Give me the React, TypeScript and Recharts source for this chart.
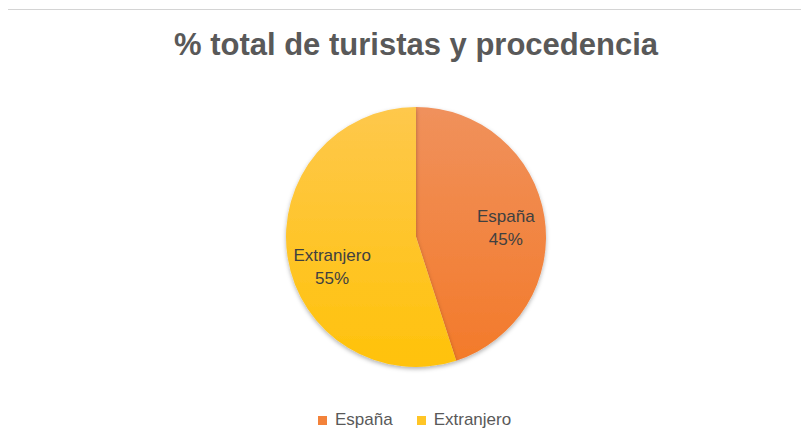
import { PieChart, Pie, Cell } from "recharts";

const categories = ["España", "Extranjero"];
const shares = [45, 55];
const colors = ["#F3823A", "#FFC526"];

// small nudges so each label sits where Excel put it
const labelNudge = [
  { dx: 0, dy: 3 },
  { dx: 6, dy: 14 },
];

const data = categories.map((name, i) => ({ name, value: shares[i] }));

const FONT = "'Liberation Sans', 'DejaVu Sans', sans-serif";

function renderLabel(props: any) {
  const { cx, cy, midAngle, outerRadius, name, percent, index } = props;
  const RAD = Math.PI / 180;
  const r = outerRadius * 0.7;
  const nudge = labelNudge[index] ?? { dx: 0, dy: 0 };
  const x = cx + r * Math.cos(-midAngle * RAD) + nudge.dx;
  const y = cy + r * Math.sin(-midAngle * RAD) + nudge.dy;
  return (
    <text x={x} y={y} textAnchor="middle" fill="#404040" fontSize={17} fontFamily={FONT}>
      <tspan x={x} dy={-4}>{name}</tspan>
      <tspan x={x} dy={23}>{`${Math.round(percent * 100)}%`}</tspan>
    </text>
  );
}

export default function App() {
  return (
    <div style={{ position: "relative", width: 809, height: 444, margin: -8, overflow: "hidden", background: "#fff" }}>
      <div
        style={{
          position: "absolute",
          left: 0,
          top: 27,
          width: 832,
          textAlign: "center",
          fontFamily: FONT,
          fontWeight: "bold",
          fontSize: 31,
          color: "#595959",
        }}
      >
        % total de turistas y procedencia
      </div>
      <div style={{ position: "absolute", left: 0, top: 0 }}>
        <PieChart width={832} height={444} margin={{ top: 0, right: 0, bottom: 0, left: 0 }}>
          <defs>
            <linearGradient id="gradEs" x1="0" y1="0" x2="0" y2="1">
              <stop offset="0%" stopColor="#F0915C" />
              <stop offset="100%" stopColor="#F37A2A" />
            </linearGradient>
            <linearGradient id="gradEx" x1="0" y1="0" x2="0" y2="1">
              <stop offset="0%" stopColor="#FEC84C" />
              <stop offset="100%" stopColor="#FFC20A" />
            </linearGradient>
            <filter id="pieShadow" x="-10%" y="-10%" width="120%" height="125%">
              <feDropShadow dx="0" dy="2" stdDeviation="2" floodColor="#000" floodOpacity="0.3" />
            </filter>
          </defs>
          <Pie
            data={data}
            dataKey="value"
            nameKey="name"
            cx={416}
            cy={237}
            outerRadius={130}
            startAngle={90}
            endAngle={-270}
            stroke="none"
            label={renderLabel}
            labelLine={false}
            isAnimationActive={false}
            style={{ filter: "url(#pieShadow)" }}
          >
            <Cell fill="url(#gradEs)" />
            <Cell fill="url(#gradEx)" />
          </Pie>
        </PieChart>
      </div>
      <div
        style={{
          position: "absolute",
          left: 318,
          top: 410,
          display: "flex",
          alignItems: "center",
          fontFamily: FONT,
          fontSize: 17,
          color: "#595959",
          whiteSpace: "nowrap",
        }}
      >
        {categories.map((c, i) => (
          <span key={c} style={{ display: "flex", alignItems: "center", marginRight: 24 }}>
            <span style={{ display: "inline-block", width: 9, height: 9, background: colors[i], marginRight: 8 }} />
            {c}
          </span>
        ))}
      </div>
      <div
        style={{
          position: "absolute",
          left: 5,
          top: 9,
          width: 830,
          height: 460,
          border: "1px solid #d4d4d4",
          boxSizing: "border-box",
          pointerEvents: "none",
        }}
      />
    </div>
  );
}
